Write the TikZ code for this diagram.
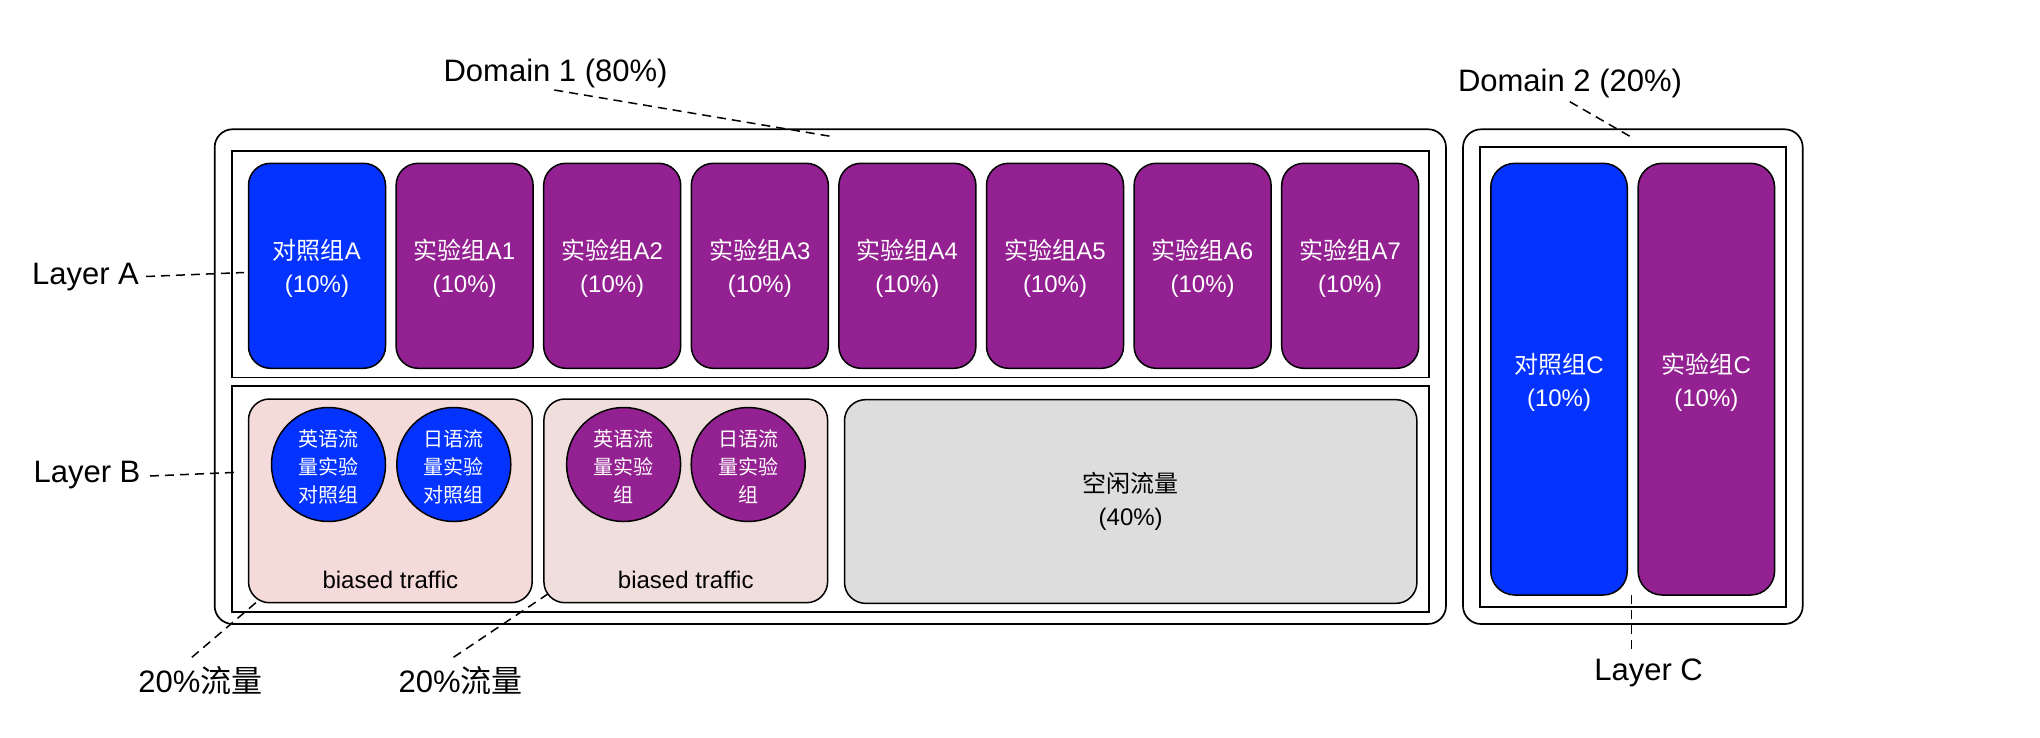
\documentclass[tikz,border=0pt]{standalone}
\usepackage{fontspec}
\setmainfont{Liberation Sans}
\newfontfamily\cjk{Noto Sans CJK SC}
\definecolor{blueA}{HTML}{0433FF}
\definecolor{purpleA}{HTML}{942192}
\definecolor{pinkA}{HTML}{F5DADA}
\definecolor{pinkB}{HTML}{F0DEDD}
\definecolor{grayA}{HTML}{DDDDDD}
\begin{document}
\begin{tikzpicture}[x=1pt,y=-1pt,
  domainbox/.style={draw,rounded corners=18pt,line width=1.7pt,inner sep=0pt},
  layerbox/.style={draw,line width=1.9pt,inner sep=0pt},
  boxtext/.style={label={[inner sep=0pt,text=white,align=center,
    font=\fontsize{24}{33}\selectfont,yshift=-3pt]center:#1}},
  groupbox/.style={draw,rounded corners=22pt,line width=1.5pt,inner sep=0pt},
  ctrl/.style={groupbox,fill=blueA},
  expt/.style={groupbox,fill=purpleA},
  biasbox/.style={draw,rounded corners=21pt,line width=1.5pt,inner sep=0pt},
  circ/.style={circle,draw,line width=1.5pt,inner sep=0pt,minimum size=114pt},
  circtext/.style={label={[inner sep=0pt,text=white,align=center,
    font=\fontsize{20}{28}\selectfont\cjk,yshift=-2pt]center:#1}},
  biglbl/.style={inner sep=0pt,font=\fontsize{31}{37}\selectfont},
  smalllbl/.style={inner sep=0pt,font=\fontsize{24}{33}\selectfont,align=center},
  leader/.style={dash pattern=on 9pt off 6pt,line width=1.5pt}
]
\useasboundingbox (0,0) rectangle (2040,737);

% Domain 1
\node[domainbox,minimum width=1231.3pt,minimum height=494.7pt] (d1) at (830.3,376.6) {};
\node[layerbox,minimum width=1197pt,minimum height=226.6pt] (la) at (830.1,264.2) {};
\node[layerbox,minimum width=1197pt,minimum height=226pt] (lb) at (830.1,498.7) {};

% Layer A groups
\node[ctrl,minimum width=137pt,minimum height=205pt,boxtext={{\cjk 对照组}A\\(10\%)}] (a0) at (317.0,265.8) {};
\node[expt,minimum width=137pt,minimum height=205pt,boxtext={{\cjk 实验组}A1\\(10\%)}] (a1) at (464.6,265.8) {};
\node[expt,minimum width=137pt,minimum height=205pt,boxtext={{\cjk 实验组}A2\\(10\%)}] (a2) at (612.2,265.8) {};
\node[expt,minimum width=137pt,minimum height=205pt,boxtext={{\cjk 实验组}A3\\(10\%)}] (a3) at (759.8,265.8) {};
\node[expt,minimum width=137pt,minimum height=205pt,boxtext={{\cjk 实验组}A4\\(10\%)}] (a4) at (907.4,265.8) {};
\node[expt,minimum width=137pt,minimum height=205pt,boxtext={{\cjk 实验组}A5\\(10\%)}] (a5) at (1055.0,265.8) {};
\node[expt,minimum width=137pt,minimum height=205pt,boxtext={{\cjk 实验组}A6\\(10\%)}] (a6) at (1202.6,265.8) {};
\node[expt,minimum width=137pt,minimum height=205pt,boxtext={{\cjk 实验组}A7\\(10\%)}] (a7) at (1350.2,265.8) {};

% Layer B
\node[biasbox,fill=pinkA,minimum width=283.7pt,minimum height=203.7pt] (b1) at (390.35,500.85) {};
\node[biasbox,fill=pinkB,minimum width=283.7pt,minimum height=203.7pt] (b2) at (685.75,500.85) {};
\node[biasbox,fill=grayA,minimum width=572.4pt,minimum height=203.7pt,
  align=center,font=\fontsize{24}{33}\selectfont] (idle) at (1130.7,501.5) {{\cjk 空闲流量}\\(40\%)};
\node[circ,fill=blueA,circtext={英语流\\量实验\\对照组}] (c1) at (328.5,464.5) {};
\node[circ,fill=blueA,circtext={日语流\\量实验\\对照组}] (c2) at (453.8,464.5) {};
\node[circ,fill=purpleA,circtext={英语流\\量实验\\组}] (c3) at (623.6,464.5) {};
\node[circ,fill=purpleA,circtext={日语流\\量实验\\组}] (c4) at (748.2,464.5) {};
\node[smalllbl] (bt1) at (390.35,580) {biased traffic};
\node[smalllbl] (bt2) at (685.75,580) {biased traffic};

% Domain 2
\node[domainbox,minimum width=339.7pt,minimum height=494.7pt] (d2) at (1632.85,376.65) {};
\node[layerbox,minimum width=306.4pt,minimum height=460.3pt] (lc) at (1633.2,376.85) {};
\node[ctrl,rounded corners=24pt,minimum width=136.5pt,minimum height=431.7pt,boxtext={{\cjk 对照组}C\\(10\%)}] (cc) at (1559.0,379.15) {};
\node[expt,rounded corners=24pt,minimum width=136.5pt,minimum height=431.7pt,boxtext={{\cjk 实验组}C\\(10\%)}] (ce) at (1706.35,379.15) {};

% Labels
\node[biglbl] (d1lbl) at (555.6,73) {Domain 1 (80\%)};
\node[biglbl] (d2lbl) at (1570,83) {Domain 2 (20\%)};
\node[biglbl] (lalbl) at (85.5,277) {Layer A};
\node[biglbl] (lblbl) at (87,475) {Layer B};
\node[biglbl] (lclbl) at (1648.6,673) {Layer C};
\node[biglbl] (p1lbl) at (200.4,681) {20\%{\cjk 流量}};
\node[biglbl] (p2lbl) at (460.6,681) {20\%{\cjk 流量}};

% Leader end points
\coordinate (d1s) at (554.3,90);
\coordinate (d1e) at (832.8,136.7);
\coordinate (d2s) at (1569.8,101.7);
\coordinate (d2e) at (1631.6,137.3);
\coordinate (las) at (146,276.5);
\coordinate (lae) at (244,272.5);
\coordinate (lbs) at (150,476);
\coordinate (lbe) at (237.5,472.3);
\coordinate (lcs) at (1631.6,595);
\coordinate (lce) at (1631.6,653);
\coordinate (p1s) at (191.9,657.3);
\coordinate (p1e) at (259,600);
\coordinate (p2s) at (453.5,657.3);
\coordinate (p2e) at (547.8,594);

\draw[leader] (d1s) -- (d1e);
\draw[leader] (d2s) -- (d2e);
\draw[leader] (las) -- (lae);
\draw[leader] (lbs) -- (lbe);
\draw[leader] (lcs) -- (lce);
\draw[leader] (p1s) -- (p1e);
\draw[leader] (p2s) -- (p2e);
\end{tikzpicture}
\end{document}
